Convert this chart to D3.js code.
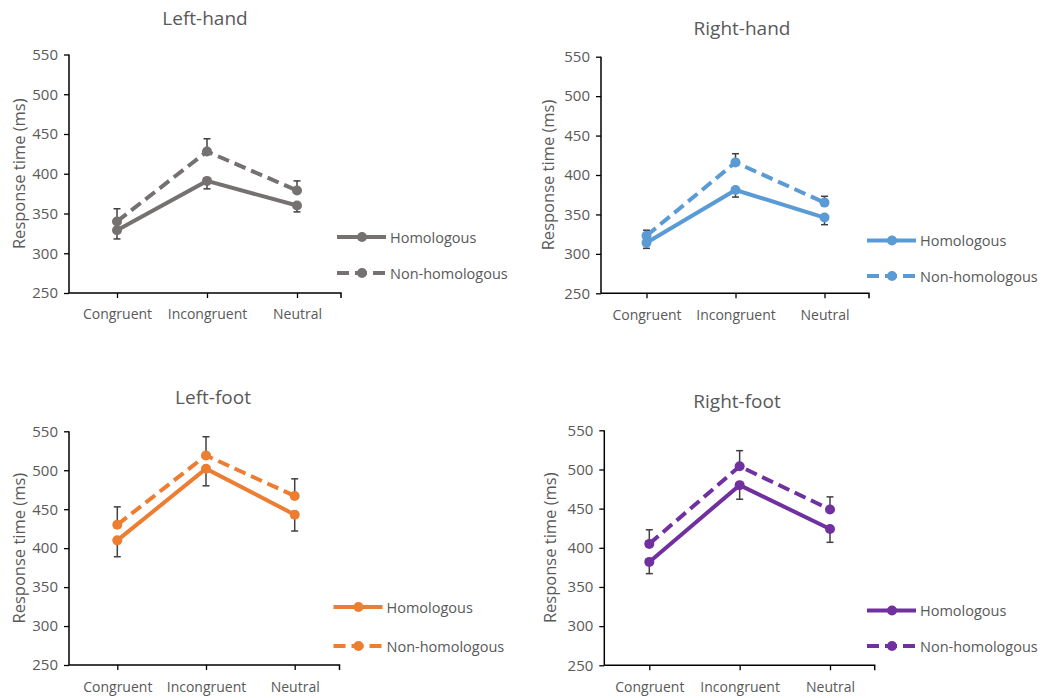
<!DOCTYPE html>
<html>
<head>
<meta charset="utf-8">
<script src="https://cdn.jsdelivr.net/npm/d3@7"></script>
<style>
  body { margin: 0; background: #fff; }
  svg text { font-family: "Open Sans", "Liberation Sans", sans-serif; fill: #595959; }
</style>
</head>
<body>
<svg id="chart" width="1053" height="698"></svg>
<script>
// ---- Data ----
const categories = ["Congruent", "Incongruent", "Neutral"];
const seriesNames = ["Homologous", "Non-homologous"];
const yTicks = [250, 300, 350, 400, 450, 500, 550];

const panelTitles = ["Left-hand", "Right-hand", "Left-foot", "Right-foot"];
const panelColors = ["#767171", "#5B9BD5", "#ED7D31", "#7030A0"];

const leftHandHomologous    = [329, 391, 360];
const leftHandNonHomologous = [340, 428, 379];
const leftHandHomErr        = [11, 10, 8];
const leftHandNonErr        = [16, 16, 12];

const rightHandHomologous    = [314, 381, 346];
const rightHandNonHomologous = [323, 416, 365];
const rightHandHomErr        = [7, 9, 9];
const rightHandNonErr        = [7, 11, 8];

const leftFootHomologous    = [410, 502, 443];
const leftFootNonHomologous = [430, 519, 467];
const leftFootHomErr        = [21, 22, 21];
const leftFootNonErr        = [23, 24, 22];

const rightFootHomologous    = [382, 480, 424];
const rightFootNonHomologous = [405, 504, 449];
const rightFootHomErr        = [15, 18, 17];
const rightFootNonErr        = [18, 20, 16];

const panelData = [
  { hom: leftHandHomologous,  non: leftHandNonHomologous,  homErr: leftHandHomErr,  nonErr: leftHandNonErr },
  { hom: rightHandHomologous, non: rightHandNonHomologous, homErr: rightHandHomErr, nonErr: rightHandNonErr },
  { hom: leftFootHomologous,  non: leftFootNonHomologous,  homErr: leftFootHomErr,  nonErr: leftFootNonErr },
  { hom: rightFootHomologous, non: rightFootNonHomologous, homErr: rightFootHomErr, nonErr: rightFootNonErr }
];

// ---- Layout (pixel geometry per panel) ----
const layouts = [
  { axisX: 69,  axisEnd: 341, top: 54.5, bottom: 293, p0: 117, p2: 297,
    titleX: 205, titleY: 18, yLabelX: 18, catY: 313, legX: 337, legY: [237, 273] },
  { axisX: 601, axisEnd: 869, top: 56.7, bottom: 293.3, p0: 646.5, p2: 824.5,
    titleX: 742, titleY: 28, yLabelX: 547, catY: 315, legX: 867, legY: [240.5, 276] },
  { axisX: 69,  axisEnd: 339.5, top: 431.3, bottom: 665, p0: 117.3, p2: 294.7,
    titleX: 213, titleY: 396.5, yLabelX: 18, catY: 686.5, legX: 333.5, legY: [607, 646] },
  { axisX: 604.3, axisEnd: 874.7, top: 430.3, bottom: 665.3, p0: 649.3, p2: 830,
    titleX: 737, titleY: 400.5, yLabelX: 549, catY: 686.5, legX: 867, legY: [610.5, 646] }
];

const svg = d3.select("#chart");
const errColor = "#404040";
const textColor = "#595959";

panelData.forEach((d, i) => {
  const L = layouts[i];
  const color = panelColors[i];
  const g = svg.append("g");

  const x = d3.scalePoint().domain(categories).range([L.p0, L.p2]);
  const y = d3.scaleLinear().domain([250, 550]).range([L.bottom, L.top]);

  // Title
  g.append("text")
    .attr("x", L.titleX).attr("y", L.titleY)
    .attr("text-anchor", "middle").attr("dominant-baseline", "central")
    .style("font-size", "19px")
    .text(panelTitles[i]);

  // Y axis
  const yAxis = g.append("g").attr("transform", `translate(${L.axisX},0)`)
    .call(d3.axisLeft(y).tickValues(yTicks).tickSize(5).tickPadding(6));
  yAxis.select(".domain").attr("stroke", "#000").attr("stroke-width", 1.5)
    .attr("d", `M0,${L.top}V${L.bottom}`);
  yAxis.selectAll(".tick line").attr("stroke", "#000").attr("stroke-width", 1.3);
  yAxis.selectAll(".tick text").style("font-size", "15px").attr("fill", textColor);

  // X axis
  const xAxis = g.append("g").attr("transform", `translate(0,${L.bottom})`)
    .call(d3.axisBottom(x).tickSize(5).tickPadding(8));
  xAxis.select(".domain").attr("stroke", "#000").attr("stroke-width", 1.5)
    .attr("d", `M${L.axisX},0H${L.axisEnd}V5`);
  xAxis.selectAll(".tick line").attr("stroke", "#000").attr("stroke-width", 1.3);
  xAxis.selectAll(".tick text").style("font-size", "14px").attr("fill", textColor)
    .attr("dy", null).attr("y", L.catY - L.bottom).attr("dominant-baseline", "central");

  // Y axis label
  g.append("text")
    .attr("transform", `translate(${L.yLabelX},${(L.top + L.bottom) / 2}) rotate(-90)`)
    .attr("text-anchor", "middle").attr("dominant-baseline", "central")
    .style("font-size", "16.5px")
    .text("Response time (ms)");

  const series = [
    { vals: d.hom, err: d.homErr, dir: -1, dash: null },
    { vals: d.non, err: d.nonErr, dir: 1, dash: "12,6" }
  ];

  // Error bars
  series.forEach(s => {
    categories.forEach((c, k) => {
      const cx = x(c);
      const y0 = y(s.vals[k]);
      const y1 = y(s.vals[k] + s.dir * s.err[k]);
      g.append("line").attr("x1", cx).attr("x2", cx).attr("y1", y0).attr("y2", y1)
        .attr("stroke", errColor).attr("stroke-width", 1.5);
      g.append("line").attr("x1", cx - 3.5).attr("x2", cx + 3.5).attr("y1", y1).attr("y2", y1)
        .attr("stroke", errColor).attr("stroke-width", 1.5);
    });
  });

  // Lines and markers
  const line = d3.line().x((v, k) => x(categories[k])).y(v => y(v));
  series.forEach(s => {
    g.append("path").datum(s.vals).attr("d", line)
      .attr("fill", "none").attr("stroke", color).attr("stroke-width", 4)
      .attr("stroke-dasharray", s.dash);
    g.selectAll(null).data(s.vals).enter().append("circle")
      .attr("cx", (v, k) => x(categories[k])).attr("cy", v => y(v))
      .attr("r", 5).attr("fill", color);
  });

  // Legend
  seriesNames.forEach((name, k) => {
    const ly = L.legY[k];
    g.append("line").attr("x1", L.legX).attr("x2", L.legX + 49).attr("y1", ly).attr("y2", ly)
      .attr("stroke", color).attr("stroke-width", 4)
      .attr("stroke-dasharray", k === 1 ? "12,6" : null);
    g.append("circle").attr("cx", L.legX + 25).attr("cy", ly).attr("r", 5).attr("fill", color);
    g.append("text").attr("x", L.legX + 53).attr("y", ly)
      .attr("dominant-baseline", "central").style("font-size", "14.5px")
      .text(name);
  });
});
</script>
</body>
</html>
